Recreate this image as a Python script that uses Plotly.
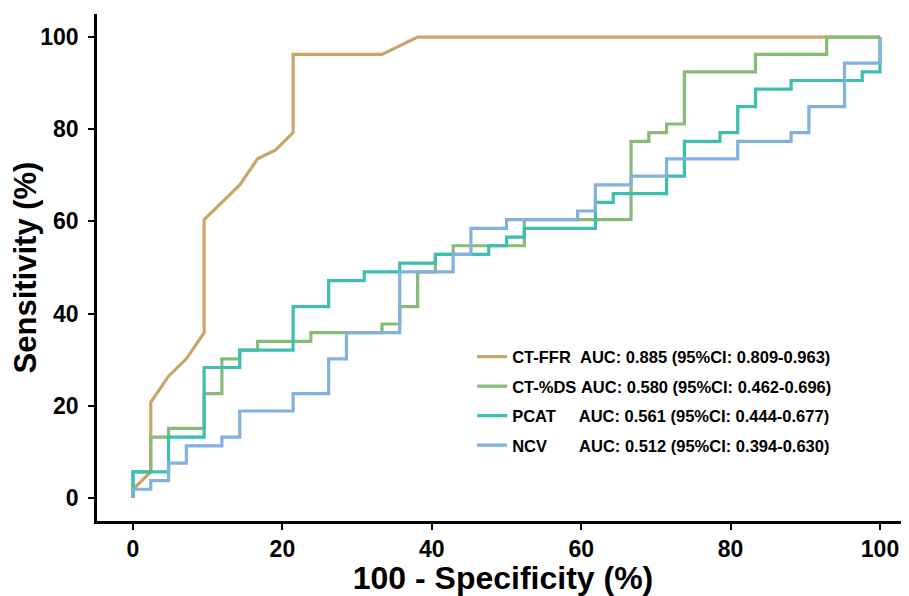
import plotly.graph_objects as go

# ROC points (100 - specificity, sensitivity), in %
ffr_x = [0, 0, 2.38, 2.38, 4.76, 7.14, 9.52, 9.52, 14.29, 16.67, 19.05, 21.43, 21.43, 33.33, 38.10, 100]
ffr_y = [0, 1.89, 5.66, 20.75, 26.42, 30.19, 35.85, 60.38, 67.92, 73.58, 75.47, 79.25, 96.23, 96.23, 100, 100]

ds_x = [0, 0, 2.38, 2.38, 4.76, 4.76, 9.52, 9.52, 11.90, 11.90, 14.29, 14.29, 16.67, 16.67, 23.81, 23.81,
        33.33, 33.33, 35.71, 35.71, 38.10, 38.10, 40.48, 40.48, 42.86, 42.86, 52.38, 52.38, 66.67, 66.67,
        69.05, 69.05, 71.43, 71.43, 73.81, 73.81, 83.33, 83.33, 92.86, 92.86, 100]
ds_y = [0, 5.66, 5.66, 13.21, 13.21, 15.09, 15.09, 22.64, 22.64, 30.19, 30.19, 32.08, 32.08, 33.96, 33.96, 35.85,
        35.85, 37.74, 37.74, 41.51, 41.51, 49.06, 49.06, 52.83, 52.83, 54.72, 54.72, 60.38, 60.38, 77.36,
        77.36, 79.25, 79.25, 81.13, 81.13, 92.45, 92.45, 96.23, 96.23, 100, 100]

pcat_x = [0, 0, 4.76, 4.76, 9.52, 9.52, 14.29, 14.29, 21.43, 21.43, 26.19, 26.19, 30.95, 30.95, 35.71, 35.71,
          40.48, 40.48, 47.62, 47.62, 50.00, 50.00, 52.38, 52.38, 61.90, 61.90, 64.29, 64.29, 71.43, 71.43,
          73.81, 73.81, 78.57, 78.57, 80.95, 80.95, 83.33, 83.33, 88.10, 88.10, 97.62, 97.62, 100, 100]
pcat_y = [0, 5.66, 5.66, 13.21, 13.21, 28.30, 28.30, 32.08, 32.08, 41.51, 41.51, 47.17, 47.17, 49.06, 49.06, 50.94,
          50.94, 52.83, 52.83, 54.72, 54.72, 56.60, 56.60, 58.49, 58.49, 64.15, 64.15, 66.04, 66.04, 69.81,
          69.81, 77.36, 77.36, 79.25, 79.25, 84.91, 84.91, 88.68, 88.68, 90.57, 90.57, 92.45, 92.45, 100]

ncv_x = [0, 0, 2.38, 2.38, 4.76, 4.76, 7.14, 7.14, 11.90, 11.90, 14.29, 14.29, 21.43, 21.43, 26.19, 26.19,
         28.57, 28.57, 35.71, 35.71, 42.86, 42.86, 45.24, 45.24, 50.00, 50.00, 59.52, 59.52, 61.90, 61.90,
         66.67, 66.67, 71.43, 71.43, 80.95, 80.95, 88.10, 88.10, 90.48, 90.48, 95.24, 95.24, 100, 100]
ncv_y = [0, 1.89, 1.89, 3.77, 3.77, 7.55, 7.55, 11.32, 11.32, 13.21, 13.21, 18.87, 18.87, 22.64, 22.64, 30.19,
         30.19, 35.85, 35.85, 49.06, 49.06, 52.83, 52.83, 58.49, 58.49, 60.38, 60.38, 62.26, 62.26, 67.92,
         67.92, 69.81, 69.81, 73.58, 73.58, 77.36, 77.36, 79.25, 79.25, 84.91, 84.91, 94.34, 94.34, 100]

names = ["CT-FFR", "CT-%DS", "PCAT", "NCV"]
pads = [2, 1, 5, 7]
auc_labels = ["AUC: 0.885 (95%CI: 0.809-0.963)",
              "AUC: 0.580 (95%CI: 0.462-0.696)",
              "AUC: 0.561 (95%CI: 0.444-0.677)",
              "AUC: 0.512 (95%CI: 0.394-0.630)"]
colors = ["#C9A567", "#87BB76", "#3CBFB0", "#80B1DF"]
xs = [ffr_x, ds_x, pcat_x, ncv_x]
ys = [ffr_y, ds_y, pcat_y, ncv_y]

tick_vals = [0, 20, 40, 60, 80, 100]

fig = go.Figure()
for n, p, a, c, x, y in zip(names, pads, auc_labels, colors, xs, ys):
    fig.add_trace(go.Scatter(x=x, y=y, mode="lines", name=n + "\u00a0" * p + a,
                             legendgroup=n, line=dict(color=c, width=3.2)))

font_family = "Liberation Sans, Arial, sans-serif"
fig.update_layout(
    width=901, height=588,
    margin=dict(l=89, r=0, t=6, b=75, autoexpand=False),
    plot_bgcolor="white", paper_bgcolor="white",
    font=dict(family=font_family, color="black"),
    showlegend=True,
    legend=dict(x=0.462, y=0.358, xanchor="left", yanchor="top",
                font=dict(size=16.5, family=font_family, color="black", weight="bold"),
                tracegroupgap=5,
                bgcolor="rgba(0,0,0,0)", borderwidth=0),
)
fig.update_xaxes(range=[-4.82, 103.88], tickvals=tick_vals, showgrid=False, zeroline=False,
                 showline=True, linecolor="black", linewidth=2.5,
                 ticks="outside", ticklen=6, tickwidth=2.2, tickcolor="black",
                 tickfont=dict(size=23, weight="bold"),
                 title=dict(text="100 - Specificity (%)", font=dict(size=32, weight="bold"), standoff=2))
fig.update_yaxes(range=[-5, 105], tickvals=tick_vals, showgrid=False, zeroline=False,
                 showline=True, linecolor="black", linewidth=2.5,
                 ticks="outside", ticklen=6, tickwidth=2.2, tickcolor="black",
                 ticklabelstandoff=5,
                 tickfont=dict(size=23, weight="bold"),
                 title=dict(text="Sensitivity (%)", font=dict(size=31, weight="bold"), standoff=0))

fig.write_html("out.html")
